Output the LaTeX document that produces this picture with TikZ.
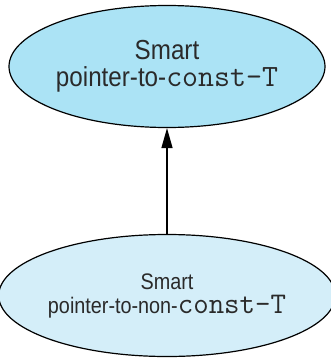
\documentclass[tikz,border=0pt]{standalone}
\usepackage{fontspec}
\setmainfont[FakeStretch=0.88]{Liberation Sans}
\usetikzlibrary{shapes.geometric,arrows.meta}

\definecolor{topblue}{HTML}{ABE3F5}
\definecolor{lowblue}{HTML}{D4EEF9}
\definecolor{inkgray}{HTML}{2A2A2A}
\newcommand{\code}[2][30]{{\ttfamily\fontsize{#1}{#1}\selectfont #2}}

\tikzset{
	ptrbox/.style={ellipse, draw, line width=1.2pt, minimum width=316pt, minimum height=122pt, inner sep=0pt, align=center, text=inkgray}
}

\begin{document}
\begin{tikzpicture}[x=1pt,y=1pt]
	\useasboundingbox (0,0) rectangle (330,-359);
	\node[ptrbox, fill=topblue, font=\fontsize{27.5}{27}\selectfont] (constptr) at (167,-66.5) {Smart\\pointer-to-\code[31]{const-T}};
	\node[ptrbox, fill=lowblue, font=\fontsize{22.5}{24}\selectfont] (nonconstptr) at (167,-295.5) {Smart\\pointer-to-non-\code{const-T}};
	\draw[line width=1.3pt, -{Triangle[length=20pt,width=11pt]}] (nonconstptr) -- (constptr); % conversion
\end{tikzpicture}
\end{document}
